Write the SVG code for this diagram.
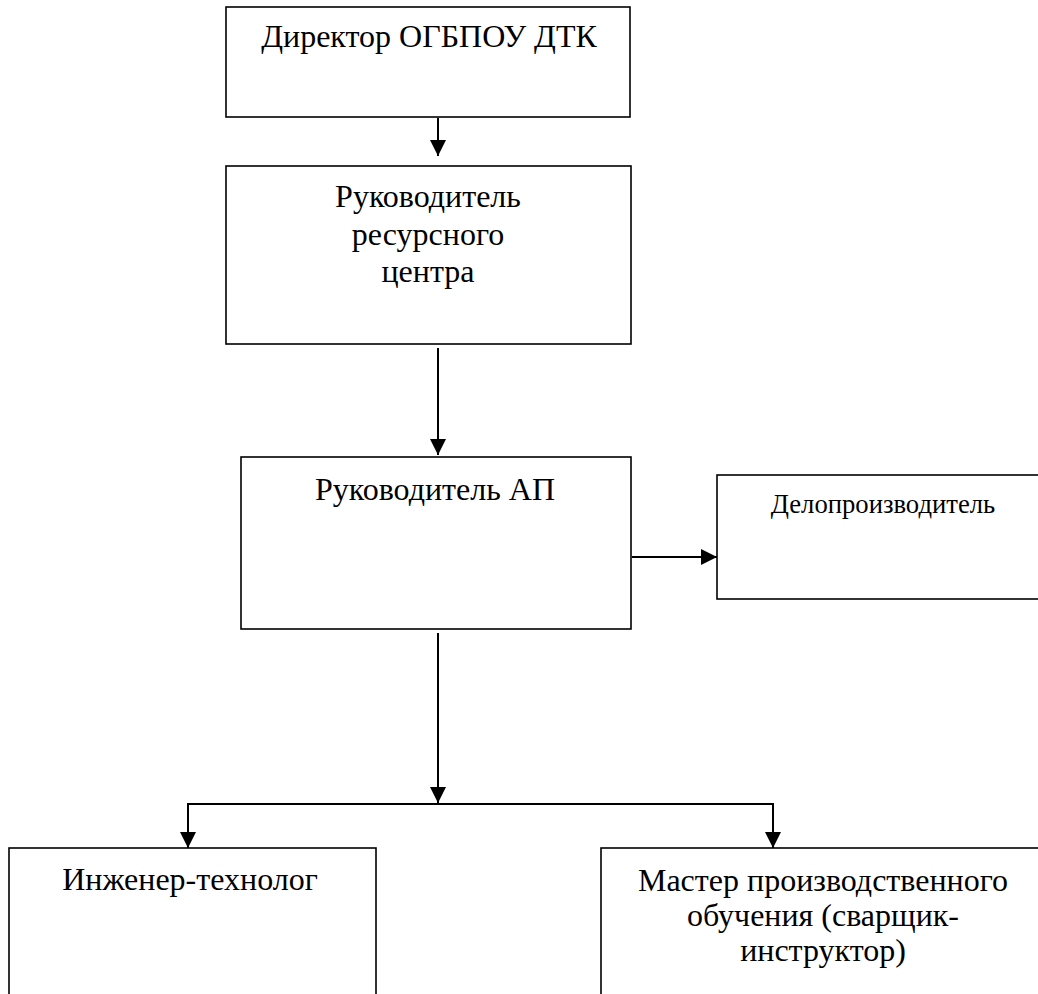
<svg xmlns="http://www.w3.org/2000/svg" width="1038" height="994" viewBox="0 0 1038 994">
<style>
.box{fill:#fff;stroke:#000;stroke-width:1.6}
.t{font-family:"Liberation Serif","Times New Roman",serif;font-size:32px;fill:#000;text-anchor:middle}
.s{font-size:26.67px}
.c{fill:none;stroke:#000;stroke-width:2}
</style>
<defs>
<marker id="ah" markerUnits="userSpaceOnUse" markerWidth="16" markerHeight="16" refX="16" refY="8" orient="auto">
<path d="M0,0 L16,8 L0,16 Z" fill="#000"/>
</marker>
</defs>
<rect width="1038" height="994" fill="#fff"/>
<g id="n-director">
<rect class="box" x="226" y="7" width="404" height="110"/>
<text class="t" x="429" y="47">Директор ОГБПОУ ДТК</text>
</g>
<g id="n-rc">
<rect class="box" x="226" y="166" width="405" height="178"/>
<text class="t" x="428" y="207">Руководитель</text>
<text class="t" x="428" y="245">ресурсного</text>
<text class="t" x="428" y="282">центра</text>
</g>
<g id="n-ap">
<rect class="box" x="241" y="457" width="390" height="172"/>
<text class="t" x="435" y="500">Руководитель АП</text>
</g>
<g id="n-delo">
<rect class="box" x="717" y="475" width="340" height="124"/>
<text class="t s" x="883" y="513">Делопроизводитель</text>
</g>
<g id="n-eng">
<rect class="box" x="9" y="848" width="367" height="170"/>
<text class="t" x="190" y="890">Инженер-технолог</text>
</g>
<g id="n-master">
<rect class="box" x="601" y="848" width="446" height="170"/>
<text class="t" x="823" y="891">Мастер производственного</text>
<text class="t" x="823" y="926">обучения (сварщик-</text>
<text class="t" x="823" y="961">инструктор)</text>
</g>
<g id="connectors">
<line class="c" x1="438" y1="118" x2="438" y2="156" marker-end="url(#ah)"/>
<line class="c" x1="438" y1="348" x2="438" y2="455" marker-end="url(#ah)"/>
<line class="c" x1="632" y1="557" x2="717" y2="557" marker-end="url(#ah)"/>
<line class="c" x1="438" y1="633" x2="438" y2="803" marker-end="url(#ah)"/>
<polyline class="c" points="188,848 188,804 773,804 773,848"/>
<line class="c" x1="188" y1="804" x2="188" y2="848" marker-end="url(#ah)"/>
<line class="c" x1="773" y1="804" x2="773" y2="848" marker-end="url(#ah)"/>
</g>
</svg>
